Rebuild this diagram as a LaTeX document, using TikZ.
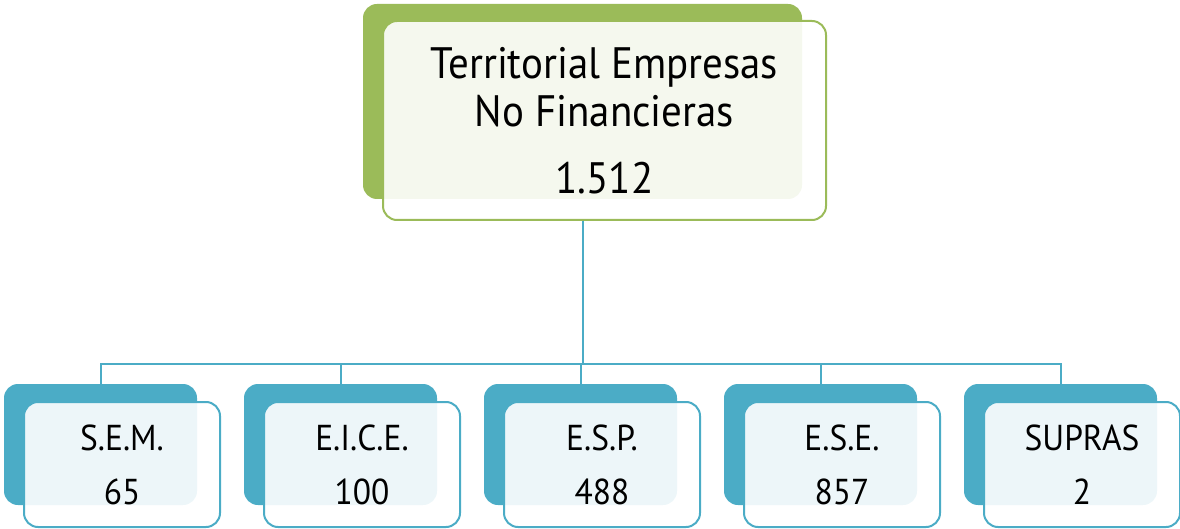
\documentclass[tikz,border=0pt]{standalone}
\usepackage{fontspec}
\setmainfont{PT Sans}[FakeStretch=0.93]
\usetikzlibrary{positioning,calc}
\definecolor{topgreen}{HTML}{9BBB59}
\definecolor{subteal}{HTML}{4BACC6}

\begin{document}
\begin{tikzpicture}[x=1pt,y=-1pt,
    backbox/.style={rounded corners=14pt, inner sep=0pt},
    frontbox/.style={draw, line width=2pt, rounded corners=14pt, fill=white,
      fill opacity=0.9, text opacity=1, align=center, inner sep=0pt},
    link/.style={draw=subteal, line width=2pt}
  ]
    \useasboundingbox (0,0) rectangle (1180,529);
    % top level
    \node[backbox, fill=topgreen, minimum width=439pt, minimum height=195pt] (topback) at (582.5,101.5) {};
    \node[frontbox, draw=topgreen, minimum width=443pt, minimum height=199pt,
      font=\fontsize{44}{48}\selectfont] (top) at ([shift={(22,19)}]topback.center)
      {Territorial Empresas\\No Financieras\\[19pt]1.512};

    % second level
    \foreach \name/\num [count=\i from 0] in {S.E.M./65, E.I.C.E./100, E.S.P./488, E.S.E./857, SUPRAS/2} {
      \node[backbox, fill=subteal, minimum width=193pt, minimum height=121pt] (sb\i) at (100.5+240*\i,444.5) {};
      \node[frontbox, draw=subteal, minimum width=196pt, minimum height=125pt,
        font=\fontsize{36}{54}\selectfont] (sf\i) at ([shift={(21.5,20)}]sb\i.center) {\name\\\num};
      \draw[link] (topback.south |- top.south) -- ++(0,143) -| (sb\i.north);
    }
  \end{tikzpicture}
\end{document}
